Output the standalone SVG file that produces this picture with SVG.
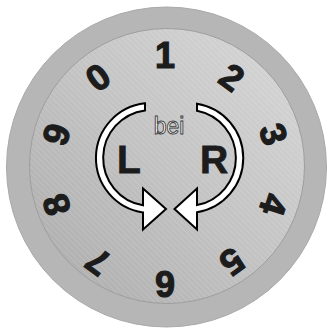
<svg xmlns="http://www.w3.org/2000/svg" width="329" height="329" viewBox="0 0 329 329">
<defs>
<linearGradient id="face" x1="1" y1="0" x2="0" y2="1">
<stop offset="0" stop-color="#d8d8d8"/>
<stop offset="0.5" stop-color="#c3c3c3"/>
<stop offset="1" stop-color="#aaaaaa"/>
</linearGradient>
<pattern id="brush" width="4" height="4" patternUnits="userSpaceOnUse" patternTransform="rotate(45)">
<rect width="4" height="1" fill="#ffffff" opacity="0.12"/>
</pattern>
</defs>
<style>
.dig{font-family:"Liberation Sans",Arial,sans-serif;font-weight:bold;font-size:36px;fill:#1c1c1c;stroke:#1c1c1c;stroke-width:1.2;text-anchor:middle}
.lr{font-family:"Liberation Sans",Arial,sans-serif;font-weight:bold;font-size:39px;fill:#1c1c1c;stroke:#1c1c1c;stroke-width:0.8;text-anchor:middle}
.bei{font-family:"Liberation Sans",Arial,sans-serif;font-size:23px;fill:#ffffff;stroke:#3a3a3a;stroke-width:0.9;text-anchor:middle}
.arrow{fill:#ffffff;stroke:#000000;stroke-width:2;stroke-linejoin:miter}
</style>
<rect width="329" height="329" fill="#ffffff"/>
<g id="dial">
<circle cx="166.5" cy="167" r="160" fill="#b6b6b6" stroke="#a9a9a9" stroke-width="1"/>
<circle cx="167" cy="166" r="137.5" fill="url(#face)" stroke="#9e9e9e" stroke-width="1"/>
<circle cx="167" cy="166" r="137" fill="url(#brush)"/>
</g>
<g id="digits">
<text class="dig" x="165" y="68" transform="rotate(-36 165 169.5)">0</text>
<text class="dig" x="165" y="68">1</text>
<text class="dig" x="165" y="68" transform="rotate(36 165 169.5)">2</text>
<text class="dig" x="165" y="68" transform="rotate(72 165 169.5)">3</text>
<text class="dig" x="165" y="68" transform="rotate(108 165 169.5)">4</text>
<text class="dig" x="165" y="68" transform="rotate(144 165 169.5)">5</text>
<text class="dig" x="165" y="68" transform="rotate(180 165 169.5)">6</text>
<text class="dig" x="165" y="68" transform="rotate(216 165 169.5)">7</text>
<text class="dig" x="165" y="68" transform="rotate(252 165 169.5)">8</text>
<text class="dig" x="165" y="68" transform="rotate(288 165 169.5)">9</text>
</g>
<g id="connectors">
<path id="arrow-left" class="arrow" d="M145 110.4 L145 103.3 A55 55 0 0 0 143 212.4 L143 229.5 L166 209 L143 188.5 L143 205.3 A48 48 0 0 1 145 110.4 Z"/>
<path id="arrow-right" class="arrow" d="M197 110.85 L197 103.7 A55 55 0 0 1 197 212.3 L197 229.5 L174.5 209 L197 188.5 L197 205.1 A48 48 0 0 0 197 110.85 Z"/>
</g>
<g id="labels">
<text id="bei" class="bei" x="169" y="134">bei</text>
<text id="L" class="lr" x="129" y="173">L</text>
<text id="R" class="lr" x="214" y="173">R</text>
</g>
</svg>
